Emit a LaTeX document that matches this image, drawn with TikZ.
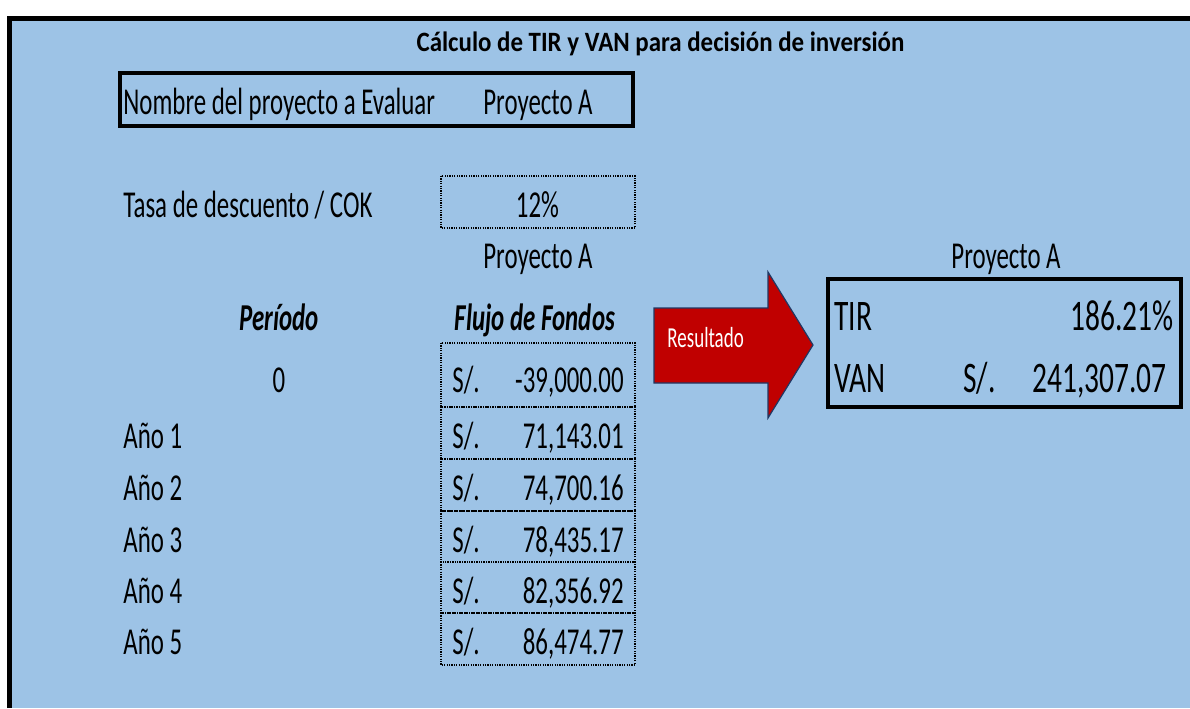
\documentclass[tikz,border=0pt]{standalone}
\usepackage{fontspec}
\setmainfont{Carlito}[FakeStretch=0.655]
\newfontfamily\titlefont{Carlito}[FakeStretch=0.89]
\newfontfamily\resfont{Carlito}[FakeStretch=0.675]
\definecolor{sheetblue}{HTML}{9DC3E6}
\definecolor{arrowred}{HTML}{C00000}
\definecolor{arrowedge}{HTML}{1F3864}
\begin{document}
\begin{tikzpicture}[x=0.5pt,y=-0.5pt,
  txt/.style={inner sep=0pt, font=\fontsize{19}{22}\selectfont},
  lbl/.style={txt, anchor=base west},
  num/.style={txt, anchor=base east},
  mid/.style={txt, anchor=base},
  hdr/.style={inner sep=0pt, anchor=base, font=\fontsize{19}{22}\selectfont\bfseries\itshape},
  restxt/.style={inner sep=0pt, font=\resfont\fontsize{21.8}{25}\selectfont},
  cellbox/.style={draw=black, line width=0.7pt, dash pattern=on 0.6pt off 0.6pt},
  framebox/.style={draw=black, line width=2pt}]
\useasboundingbox (0,0) rectangle (1190,708);
\fill[white] (0,0) rectangle (1190,708);
\fill[sheetblue] (9.5,18) rectangle (1190,708);
\draw[line width=2.5pt] (9.5,708) -- (9.5,18) -- (1190,18);

% title
\node[inner sep=0pt, anchor=base, font=\titlefont\fontsize{14}{16}\selectfont\bfseries] (title) at (660.5,51) {Cálculo de TIR y VAN para decisión de inversión};

% project name box
\draw[framebox] (120,73) rectangle (633,126);
\node[lbl] (nombre) at (123,114) {Nombre del proyecto a Evaluar};
\node[mid] (proyname) at (538,114) {Proyecto A};

% discount rate
\node[lbl] (tasa) at (123,217) {Tasa de descuento / COK};
\draw[cellbox] (441,176) rectangle (635,228);
\node[mid] (tasaval) at (537.5,217) {12\%};

\node[mid] (proyleft) at (538,268) {Proyecto A};
\node[hdr] (periodo) at (279,330) {Período};
\node[hdr] (flujo) at (535,330) {Flujo de Fondos};

% cash flow cells
\draw[cellbox] (441,343) rectangle (635,407);
\node[mid] (p0) at (279,392) {0};
\node[lbl] (s0) at (452,392) {S/.};
\node[num] (v0) at (624,392) {-39,000.00};

\foreach \i/\top/\bot/\val in {1/407/459/71{,}143.01, 2/459/511/74{,}700.16, 3/511/562/78{,}435.17, 4/562/613/82{,}356.92, 5/613/665/86{,}474.77}{
  \draw[cellbox] (441,\top) rectangle (635,\bot);
  \node[lbl] (p\i) at (123,\top+41) {Año \i};
  \node[lbl] (s\i) at (452,\top+41) {S/.};
  \node[num] (v\i) at (624,\top+41) {\val};
}

% arrow
\draw[fill=arrowred, draw=arrowedge, line width=0.6pt, line join=miter]
  (654,308) -- (768,308) -- (768,272) -- (813,345) -- (768,418) -- (768,383) -- (654,383) -- cycle;
\node[inner sep=0pt, anchor=base west, text=white, font=\fontsize{14.5}{17}\selectfont] (resultado) at (667,347) {Resultado};

% results
\node[mid] (proyright) at (1006,268) {Proyecto A};
\draw[framebox, line width=1.8pt] (828,279) rectangle (1181,407);
\node[restxt, anchor=base west] (tir) at (834,330) {TIR};
\node[restxt, anchor=base east] (tirval) at (1174,330) {186.21\%};
\node[restxt, anchor=base west] (van) at (834,392) {VAN};
\node[restxt, anchor=base west] (vans) at (963,392) {S/.};
\node[restxt, anchor=base east] (vanval) at (1167,392) {241,307.07};
\end{tikzpicture}
\end{document}
